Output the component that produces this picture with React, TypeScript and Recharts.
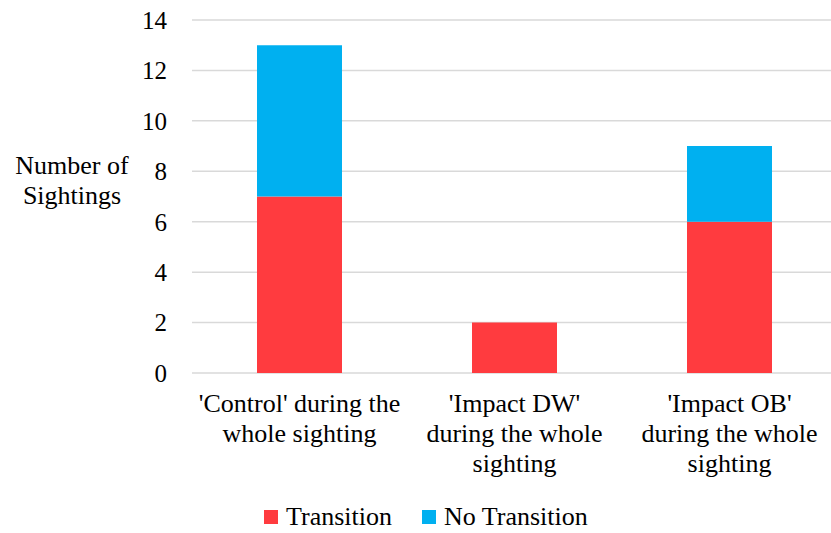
import React from "react";
import { BarChart, Bar, XAxis, YAxis, CartesianGrid, Legend } from "recharts";

const categories = [
  "'Control' during the whole sighting",
  "'Impact DW' during the whole sighting",
  "'Impact OB' during the whole sighting",
];
const categoryLines = [
  ["'Control' during the", "whole sighting"],
  ["'Impact DW'", "during the whole", "sighting"],
  ["'Impact OB'", "during the whole", "sighting"],
];
const transition = [7, 2, 6];
const noTransition = [6, 0, 3];
const yTicks = [0, 2, 4, 6, 8, 10, 12, 14];

const RED = "#FF3B3F";
const BLUE = "#00B0F0";
const FONT = '"Liberation Serif", "Times New Roman", serif';

const data = categories.map((name, i) => ({
  name,
  transition: transition[i],
  noTransition: noTransition[i],
}));

function CategoryTick(props: any) {
  const { x, y, payload } = props;
  const lines = categoryLines[payload.index] || [payload.value];
  return (
    <text x={x} y={y} textAnchor="middle" fontSize={26} fill="#000">
      {lines.map((line, i) => (
        <tspan key={i} x={x} y={y + 39 + i * 30}>
          {line}
        </tspan>
      ))}
    </text>
  );
}

function YLabel(props: any) {
  const { viewBox } = props;
  const cx = viewBox.x + 72;
  return (
    <text textAnchor="middle" fontSize={26} fill="#000">
      <tspan x={cx} y={viewBox.y + 154}>Number of</tspan>
      <tspan x={cx} y={viewBox.y + 184}>Sightings</tspan>
    </text>
  );
}

function LegendContent() {
  const items = [
    { label: "Transition", color: RED },
    { label: "No Transition", color: BLUE },
  ];
  return (
    <div style={{ display: "flex", alignItems: "center", paddingLeft: 264, fontSize: 26, color: "#000" }}>
      {items.map((it) => (
        <div key={it.label} style={{ display: "flex", alignItems: "center", marginRight: 30 }}>
          <span style={{ display: "inline-block", width: 14, height: 14, background: it.color, marginRight: 8 }} />
          <span>{it.label}</span>
        </div>
      ))}
    </div>
  );
}

export default function App() {
  return (
    <div
      className="chart-root"
      style={{ position: "absolute", left: 0, top: 0, width: 831, height: 533, overflow: "hidden", background: "#fff", fontFamily: FONT }}
    >
      <style>{`.chart-root, .chart-root * { font-family: ${FONT} !important; }`}</style>
      <BarChart width={840} height={533} data={data} margin={{ top: 20, right: 3, left: 0, bottom: 0 }}>
        <CartesianGrid vertical={false} stroke="#d9d9d9" strokeWidth={1.5} />
        <XAxis
          dataKey="name"
          height={160}
          axisLine={false}
          tickLine={false}
          tickSize={0}
          tickMargin={0}
          interval={0}
          tick={<CategoryTick />}
        />
        <YAxis
          width={192}
          domain={[0, 14]}
          ticks={yTicks}
          axisLine={false}
          tickLine={false}
          tickSize={0}
          tickMargin={25}
          tick={{ fontSize: 25, fill: "#000" }}
          label={<YLabel />}
        />
        <Legend
          layout="horizontal"
          verticalAlign="middle"
          align="center"
          wrapperStyle={{ top: 502, left: 0, width: 840 }}
          content={<LegendContent />}
        />
        <Bar dataKey="transition" name="Transition" stackId="a" fill={RED} barSize={85} isAnimationActive={false} />
        <Bar dataKey="noTransition" name="No Transition" stackId="a" fill={BLUE} barSize={85} isAnimationActive={false} />
      </BarChart>
    </div>
  );
}
